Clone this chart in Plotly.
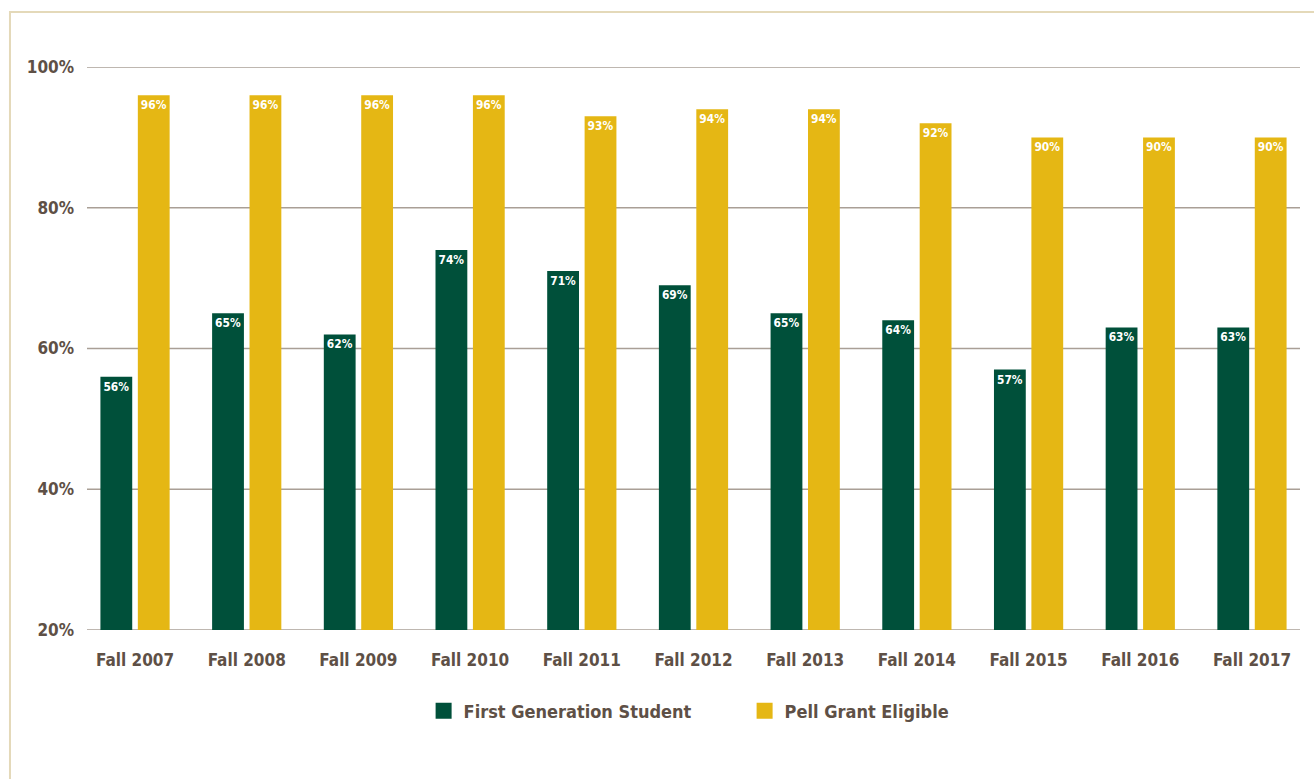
import plotly.graph_objects as go

terms = ["Fall 2007", "Fall 2008", "Fall 2009", "Fall 2010", "Fall 2011", "Fall 2012",
         "Fall 2013", "Fall 2014", "Fall 2015", "Fall 2016", "Fall 2017"]
first_gen = [56, 65, 62, 74, 71, 69, 65, 64, 57, 63, 63]
pell = [96, 96, 96, 96, 93, 94, 94, 92, 90, 90, 90]
y_ticks = [20, 40, 60, 80, 100]
y_tick_labels = ["20%", "40%", "60%", "80%", "100%"]

GREEN = "#00503A"
GOLD = "#E5B714"
TEXT = "#5E5046"
GRID = "#A99F96"
FONT = "Liberation Sans Narrow, DejaVu Sans Condensed, Arial Narrow, sans-serif"

fig = go.Figure()

# horizontal rules at each tick, including the bottom and top of the axis
for v in y_ticks:
    fig.add_shape(type="line", xref="paper", yref="y", x0=0, x1=1, y0=v, y1=v,
                  line=dict(color=GRID, width=1.5), layer="below")

for name, vals, color in [("First Generation Student", first_gen, GREEN),
                          ("Pell Grant Eligible", pell, GOLD)]:
    fig.add_trace(go.Bar(
        x=terms, y=vals, name=name, marker=dict(color=color, line=dict(width=0)),
        text=[f"{v}%" for v in vals], textposition="inside", insidetextanchor="end",
        textfont=dict(color="white", size=13, family=FONT, weight="bold"),
        textangle=0, showlegend=False, cliponaxis=True,
    ))
    # legend entries with larger square swatches
    fig.add_trace(go.Scatter(
        x=[None], y=[None], mode="markers", name=name,
        marker=dict(symbol="square", size=21, color=color),
        showlegend=True,
    ))

# frame around the chart
fig.add_shape(type="rect", xref="paper", yref="paper",
              x0=-0.0635, x1=1.2, y0=-0.5, y1=1.0977,
              line=dict(color="#E4D9B9", width=2), fillcolor="rgba(0,0,0,0)", layer="below")

fig.update_layout(
    width=1314, height=779,
    margin=dict(l=87, r=14, t=67, b=149),
    paper_bgcolor="white", plot_bgcolor="white",
    barmode="group", bargap=0.33, bargroupgap=0.15,
    font=dict(family=FONT, color=TEXT, size=17, weight="bold"),
    xaxis=dict(range=[-0.43, 10.43], showgrid=False, showline=False, ticks="",
               tickfont=dict(size=17, family=FONT, color=TEXT, weight="bold"),
               ticklabelstandoff=18),
    yaxis=dict(range=[20, 100], tickmode="array", tickvals=y_ticks,
               ticktext=y_tick_labels, showgrid=False, zeroline=False, showline=False,
               tickfont=dict(size=17, family=FONT, color=TEXT, weight="bold"),
               ticklabelstandoff=12),
    legend=dict(orientation="h", x=0.2775, xanchor="left", y=-0.144, yanchor="middle",
                font=dict(size=18, family=FONT, color=TEXT, weight="bold"),
                itemwidth=30, traceorder="normal", entrywidth=276),
    uniformtext=dict(minsize=10, mode="show"),
)

fig.write_html("out.html")
